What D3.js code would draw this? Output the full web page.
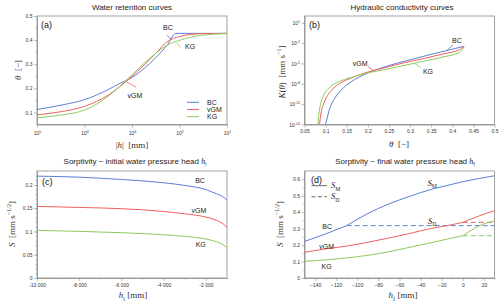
<!DOCTYPE html>
<html>
<head>
<meta charset="utf-8">
<script src="https://cdn.jsdelivr.net/npm/d3@7"></script>
<style>
  body { margin: 0; background: #fff; }
  svg { display: block; }
</style>
</head>
<body>
<svg width="500" height="306"></svg>
<script>
// three soil hydraulic models, same order everywhere
var models = ["BC", "vGM", "KG"];
var colors = ["#5b7fd4", "#f0605f", "#8ccb5c"];

// (a) water retention: |h| [mm] -> theta [-]
var retHeadBC = [100000, 31600, 10000, 3160, 1780, 1000, 560, 316, 178, 120, 10];
var retThetaBC = [0.112, 0.130, 0.153, 0.195, 0.221, 0.245, 0.282, 0.327, 0.382, 0.428, 0.428];
var retHead = [100000, 31600, 10000, 3160, 1780, 1000, 560, 316, 178, 100, 56, 32, 10];
var retThetaVGM = [0.090, 0.103, 0.125, 0.172, 0.208, 0.250, 0.296, 0.345, 0.395, 0.415, 0.424, 0.427, 0.428];
var retThetaKG = [0.078, 0.089, 0.110, 0.167, 0.210, 0.256, 0.303, 0.345, 0.380, 0.399, 0.413, 0.421, 0.427];
var retHeadTicks = [1e5, 1e4, 1e3, 1e2, 1e1];
var retThetaTicks = [0.1, 0.2, 0.3, 0.4, 0.5];
var retThetaLabels = ["0.1", "0.2", "0.3", "0.4", "0.5"];

// (b) hydraulic conductivity: theta -> K, K given as power of ten
var condThetaBC = [0.0998, 0.104, 0.108, 0.114, 0.120, 0.130, 0.142, 0.158, 0.180, 0.200, 0.230, 0.270, 0.310, 0.350, 0.390, 0.428];
var condExpBC = [-14, -13, -12, -11, -10.3, -9.4, -8.6, -7.8, -7.0, -6.4, -5.7, -4.95, -4.3, -3.65, -3.05, -2.47];
var condThetaVGM = [0.0855, 0.0875, 0.090, 0.095, 0.102, 0.112, 0.125, 0.140, 0.160, 0.196, 0.236, 0.283, 0.330, 0.378, 0.417, 0.428];
var condExpVGM = [-14, -13, -12, -11, -10, -9.1, -8.3, -7.7, -7.15, -6.34, -5.68, -4.94, -4.30, -3.60, -2.97, -2.47];
var condThetaKG = [0.0816, 0.083, 0.085, 0.088, 0.093, 0.100, 0.110, 0.125, 0.145, 0.170, 0.196, 0.236, 0.283, 0.330, 0.378, 0.417, 0.425, 0.428];
var condExpKG = [-14, -13, -12, -11, -10, -9.2, -8.5, -7.9, -7.35, -6.9, -6.44, -5.94, -5.34, -4.70, -4.05, -3.37, -2.86, -2.47];
var condThetaTicks = [0.05, 0.1, 0.15, 0.2, 0.25, 0.3, 0.35, 0.4, 0.45, 0.5];
var condThetaLabels = ["0.05", "0.1", "0.15", "0.2", "0.25", "0.3", "0.35", "0.4", "0.45", "0.5"];
var condKTicks = [1e-14, 1e-11, 1e-8, 1e-5, 1e-2, 1e1];

// (c) sorptivity vs initial head h_i
var initHead = [-10000, -8000, -6000, -4000, -3000, -2000, -1500, -1200, -1000];
var sorpInitBC = [0.219, 0.2167, 0.2118, 0.2047, 0.199, 0.190, 0.181, 0.175, 0.167];
var sorpInitVGM = [0.1539, 0.1517, 0.149, 0.143, 0.138, 0.131, 0.124, 0.117, 0.109];
var sorpInitKG = [0.1024, 0.1002, 0.0974, 0.093, 0.0895, 0.0837, 0.078, 0.072, 0.065];
var initHeadTicks = [-10000, -8000, -6000, -4000, -2000];
var initHeadLabels = ["-10 000", "-8 000", "-6 000", "-4 000", "-2 000"];
var sorpInitTicks = [0, 0.05, 0.1, 0.15, 0.2];
var sorpInitLabels = ["0", "0.05", "0.1", "0.15", "0.2"];

// (d) sorptivity vs final head h_f (S_M solid, S_D dashed)
var finalHead = [-150, -130, -110, -90, -70, -50, -30, -15, 0, 15, 30];
var sorpFinalBC = [0.222, 0.268, 0.318, 0.392, 0.450, 0.497, 0.538, 0.562, 0.585, 0.604, 0.621];
var sorpFinalVGM = [0.156, 0.177, 0.194, 0.217, 0.243, 0.271, 0.301, 0.318, 0.338, 0.376, 0.409];
var sorpFinalKG = [0.101, 0.110, 0.122, 0.138, 0.160, 0.187, 0.214, 0.236, 0.257, 0.315, 0.348];
var sdStart = [-110, 0, 0];
var sdValue = [0.318, 0.338, 0.257];
var finalHeadTicks = [-140, -120, -100, -80, -60, -40, -20, 0, 20];
var sorpFinalTicks = [0, 0.1, 0.2, 0.3, 0.4, 0.5, 0.6];
var sorpFinalLabels = ["0", "0.1", "0.2", "0.3", "0.4", "0.5", "0.6"];

var svg = d3.select("svg");
var sans = "'Liberation Sans', Arial, sans-serif";
var serif = "'Liberation Serif', 'DejaVu Serif', serif";
var gray = "#8c8c8c";
var defs = svg.append("defs");

// scales
var xA = d3.scaleLog().domain([1e5, 10]).range([37, 227]);
var yA = d3.scaleLinear().domain([0.05, 0.5]).range([124.5, 16]);
var xB = d3.scaleLinear().domain([0.05, 0.5]).range([304.5, 494.5]);
var yB = d3.scaleLog().domain([1e-14, 1e2]).range([124.5, 16]);
var xC = d3.scaleLinear().domain([-10000, -1000]).range([37, 227]);
var yC = d3.scaleLinear().domain([0, 0.23]).range([278, 171]);
var xD = d3.scaleLinear().domain([-150, 30]).range([304.5, 494.5]);
var yD = d3.scaleLinear().domain([0, 0.65]).range([278, 171]);

function box(id, x, y) {
  var x0 = x.range()[0], x1 = x.range()[1], y0 = y.range()[1], y1 = y.range()[0];
  defs.append("clipPath").attr("id", id).append("rect")
    .attr("x", x0).attr("y", y0).attr("width", x1 - x0).attr("height", y1 - y0);
  svg.append("rect").attr("x", x0).attr("y", y0).attr("width", x1 - x0).attr("height", y1 - y0)
    .attr("fill", "none").attr("stroke", gray).attr("stroke-width", 0.8);
}

function axis(a, tx, ty) {
  var g = svg.append("g").attr("transform", "translate(" + tx + "," + ty + ")").call(a);
  g.attr("font-size", 5).attr("font-family", sans);
  g.select(".domain").attr("stroke", gray).attr("stroke-width", 0.8);
  g.selectAll(".tick line").attr("stroke", gray).attr("stroke-width", 0.6);
  g.selectAll(".tick text").attr("fill", "#333");
  return g;
}

function minor(a, tx, ty) {
  var g = svg.append("g").attr("transform", "translate(" + tx + "," + ty + ")")
    .call(a.tickSize(1.6).tickSizeOuter(0).tickFormat(""));
  g.select(".domain").remove();
  g.selectAll(".tick line").attr("stroke", gray).attr("stroke-width", 0.5);
}

function powerLabels(g) {
  g.selectAll(".tick text").each(function(d) {
    var e = Math.round(Math.log10(d));
    var t = d3.select(this).text("10");
    t.append("tspan").attr("dy", -2).attr("font-size", 3.6).text(e);
  });
}

function labelFrom(labels, ticks) {
  return function(d) { return labels[ticks.indexOf(d)]; };
}

// rich text: italic / sub / sup pieces
function rich(sel, parts, fs) {
  var shift = 0;
  parts.forEach(function(p) {
    var target = p.sub ? 0.3 * fs : p.sup ? -0.4 * fs : 0;
    var ts = sel.append("tspan").text(p.t).attr("dy", target - shift);
    shift = target;
    if (p.sub || p.sup) ts.attr("font-size", fs * 0.68);
    if (p.i) ts.attr("font-style", "italic");
    if (p.f) ts.attr("font-family", p.f);
  });
  return sel;
}

function title(x, y, parts) {
  var t = svg.append("text").attr("x", x).attr("y", y).attr("text-anchor", "middle")
    .attr("font-family", sans).attr("font-size", 8).attr("fill", "#222");
  rich(t, parts, 8);
}

function axisTitle(x, y, parts, rotate) {
  var t = svg.append("text").attr("text-anchor", "middle").attr("font-family", serif)
    .attr("font-size", 9).attr("fill", "#333")
    .attr("transform", "translate(" + x + "," + y + ")" + (rotate ? " rotate(-90)" : ""));
  rich(t, parts, 9);
}

function tag(x, y, s) {
  svg.append("text").attr("x", x).attr("y", y).attr("font-family", sans)
    .attr("font-size", 9).attr("fill", "#111").text(s);
}

function note(x, y, s) {
  svg.append("text").attr("x", x).attr("y", y).attr("dy", "0.35em").attr("text-anchor", "middle")
    .attr("font-family", sans).attr("font-size", 7).attr("fill", "#222").text(s);
}

function leader(x1, y1, x2, y2, color) {
  svg.append("line").attr("x1", x1).attr("y1", y1).attr("x2", x2).attr("y2", y2)
    .attr("stroke", color).attr("stroke-width", 0.8);
}

function curve(clip, pts, color, dash) {
  svg.append("path").datum(pts).attr("clip-path", "url(#" + clip + ")")
    .attr("fill", "none").attr("stroke", color).attr("stroke-width", 1)
    .attr("stroke-dasharray", dash || null)
    .attr("d", d3.line().x(function(d) { return d[0]; }).y(function(d) { return d[1]; })
      .curve(d3.curveMonotoneX));
}

// ---------------- (a) ----------------
box("clipA", xA, yA);
var gxa = axis(d3.axisBottom(xA).tickValues(retHeadTicks).tickSize(3).tickSizeOuter(0).tickPadding(4), 0, 124.5);
powerLabels(gxa);
minor(d3.axisLeft(yA).tickValues([0.15, 0.25, 0.35, 0.45]), 37, 0);
axis(d3.axisLeft(yA).tickValues(retThetaTicks).tickFormat(labelFrom(retThetaLabels, retThetaTicks))
  .tickSize(3).tickSizeOuter(0).tickPadding(1.5), 37, 0);

var retSeries = [[retHeadBC, retThetaBC], [retHead, retThetaVGM], [retHead, retThetaKG]];
retSeries.forEach(function(s, k) {
  curve("clipA", s[0].map(function(h, i) { return [xA(h), yA(s[1][i])]; }), colors[k]);
});
title(132, 10, [{t: "Water retention curves"}]);
tag(41, 27.5, "(a)");
note(xA(175), yA(0.454), "BC");
leader(xA(186), yA(0.421), xA(145), yA(0.402), colors[0]);
note(xA(60), yA(0.375), "KG");
leader(xA(115), yA(0.39), xA(95), yA(0.37), colors[2]);
note(xA(870), yA(0.172), "vGM");
leader(xA(1290), yA(0.226), xA(820), yA(0.205), colors[1]);
models.forEach(function(m, k) {
  var ly = 102.3 + k * 7.2;
  svg.append("line").attr("x1", 187).attr("x2", 199).attr("y1", ly).attr("y2", ly)
    .attr("stroke", colors[k]).attr("stroke-width", 1);
  svg.append("text").attr("x", 207).attr("y", ly).attr("dy", "0.35em")
    .attr("font-family", sans).attr("font-size", 7).attr("fill", "#222").text(m);
});
axisTitle(132, 148, [{t: "|"}, {t: "h", i: true}, {t: "|\u00a0\u00a0[mm]"}]);
axisTitle(21, 70, [{t: "\u03b8", i: true}, {t: "\u00a0\u00a0[\u2212]"}], true);

// ---------------- (b) ----------------
box("clipB", xB, yB);
axis(d3.axisBottom(xB).tickValues(condThetaTicks).tickFormat(labelFrom(condThetaLabels, condThetaTicks))
  .tickSize(3).tickSizeOuter(0).tickPadding(2), 0, 124.5);
var gyb = axis(d3.axisLeft(yB).tickValues(condKTicks).tickSize(3).tickSizeOuter(0).tickPadding(1.5), 304.5, 0);
powerLabels(gyb);
var condSeries = [[condThetaBC, condExpBC], [condThetaVGM, condExpVGM], [condThetaKG, condExpKG]];
condSeries.forEach(function(s, k) {
  curve("clipB", s[0].map(function(t, i) { return [xB(t), yB(Math.pow(10, s[1][i]))]; }), colors[k]);
});
title(402, 10, [{t: "Hydraulic conductivity curves"}]);
tag(309, 27.5, "(b)");
note(xB(0.411), yB(Math.pow(10, -1.69)), "BC");
leader(xB(0.402), yB(Math.pow(10, -2.28)), xB(0.388), yB(Math.pow(10, -3.0)), colors[0]);
note(xB(0.3425), yB(Math.pow(10, -6.21)), "KG");
leader(xB(0.31), yB(Math.pow(10, -4.95)), xB(0.325), yB(Math.pow(10, -5.6)), colors[2]);
note(xB(0.182), yB(Math.pow(10, -5.08)), "vGM");
leader(xB(0.2), yB(Math.pow(10, -5.45)), xB(0.213), yB(Math.pow(10, -6.0)), colors[1]);
axisTitle(399, 147, [{t: "\u03b8", i: true}, {t: "\u00a0\u00a0[\u2212]"}]);
axisTitle(285, 72, [{t: "K", i: true}, {t: "("}, {t: "\u03b8", i: true}, {t: ")\u00a0\u00a0[mm\u00a0s"}, {t: "\u22121", sup: true}, {t: "]"}], true);

// ---------------- (c) ----------------
box("clipC", xC, yC);
minor(d3.axisBottom(xC).tickValues([-9000, -7000, -5000, -3000, -1000]), 0, 278);
axis(d3.axisBottom(xC).tickValues(initHeadTicks).tickFormat(labelFrom(initHeadLabels, initHeadTicks))
  .tickSize(3).tickSizeOuter(0).tickPadding(2.5), 0, 278);
minor(d3.axisLeft(yC).tickValues(d3.range(1, 23).map(function(i) { return i / 100; })), 37, 0);
axis(d3.axisLeft(yC).tickValues(sorpInitTicks).tickFormat(labelFrom(sorpInitLabels, sorpInitTicks))
  .tickSize(3).tickSizeOuter(0).tickPadding(1.5), 37, 0);
[sorpInitBC, sorpInitVGM, sorpInitKG].forEach(function(s, k) {
  curve("clipC", initHead.map(function(h, i) { return [xC(h), yC(s[i])]; }), colors[k]);
});
title(135, 164, [{t: "Sorptivity ~ initial water pressure head "}, {t: "h", i: true, f: serif}, {t: "i", sub: true}]);
tag(42, 184.5, "(c)");
note(xC(-2279), yC(0.209), "BC");
note(xC(-2326), yC(0.144), "vGM");
note(xC(-2245), yC(0.071), "KG");
axisTitle(133, 298, [{t: "h", i: true}, {t: "i", sub: true}, {t: "\u00a0[mm]"}]);
axisTitle(15, 224, [{t: "S", i: true}, {t: "\u00a0\u00a0[mm\u00a0s"}, {t: "\u22121/2", sup: true}, {t: "]"}], true);

// ---------------- (d) ----------------
box("clipD", xD, yD);
minor(d3.axisBottom(xD).tickValues([-150, -130, -110, -90, -70, -50, -30, -10, 10, 30]), 0, 278);
axis(d3.axisBottom(xD).tickValues(finalHeadTicks).tickSize(3).tickSizeOuter(0).tickPadding(2.5), 0, 278);
minor(d3.axisLeft(yD).tickValues([0.05, 0.15, 0.25, 0.35, 0.45, 0.55]), 304.5, 0);
axis(d3.axisLeft(yD).tickValues(sorpFinalTicks).tickFormat(labelFrom(sorpFinalLabels, sorpFinalTicks))
  .tickSize(3).tickSizeOuter(0).tickPadding(1.5), 304.5, 0);
[sorpFinalBC, sorpFinalVGM, sorpFinalKG].forEach(function(s, k) {
  var pts = finalHead.map(function(h, i) { return [h, s[i]]; });
  var before = pts.filter(function(p) { return p[0] <= sdStart[k]; });
  var after = pts.filter(function(p) { return p[0] >= sdStart[k]; });
  [before, after].forEach(function(part) {
    curve("clipD", part.map(function(p) { return [xD(p[0]), yD(p[1])]; }), colors[k]);
  });
  curve("clipD", [[xD(sdStart[k]), yD(sdValue[k])], [xD(30), yD(sdValue[k])]], colors[k], "5,3");
});
title(405, 164, [{t: "Sorptivity ~ final water pressure head "}, {t: "h", i: true, f: serif}, {t: "f", sub: true}]);
tag(311, 182.5, "(d)");
note(xD(-128.5), yD(0.315), "BC");
note(xD(-129), yD(0.192), "vGM");
note(xD(-129), yD(0.067), "KG");
[["M", null, 185.7], ["D", "4,2.5", 196.7]].forEach(function(l) {
  svg.append("line").attr("x1", 311.5).attr("x2", 327).attr("y1", l[2]).attr("y2", l[2])
    .attr("stroke", "#555").attr("stroke-width", 0.9).attr("stroke-dasharray", l[1]);
  var t = svg.append("text").attr("x", 331).attr("y", l[2] + 2.5)
    .attr("font-family", serif).attr("font-size", 8.5).attr("fill", "#222");
  rich(t, [{t: "S", i: true}, {t: l[0], sub: true}], 8.5);
});
[["M", -29, 0.577], ["D", -29, 0.345]].forEach(function(l) {
  var t = svg.append("text").attr("x", xD(l[1])).attr("y", yD(l[2]) + 2.5).attr("text-anchor", "middle")
    .attr("font-family", serif).attr("font-size", 8.5).attr("fill", "#222");
  rich(t, [{t: "S", i: true}, {t: l[0], sub: true}], 8.5);
});
axisTitle(403, 298, [{t: "h", i: true}, {t: "f", sub: true}, {t: "\u00a0[mm]"}]);
axisTitle(283, 224, [{t: "S", i: true}, {t: "\u00a0\u00a0[mm\u00a0s"}, {t: "\u22121/2", sup: true}, {t: "]"}], true);
</script>
</body>
</html>
